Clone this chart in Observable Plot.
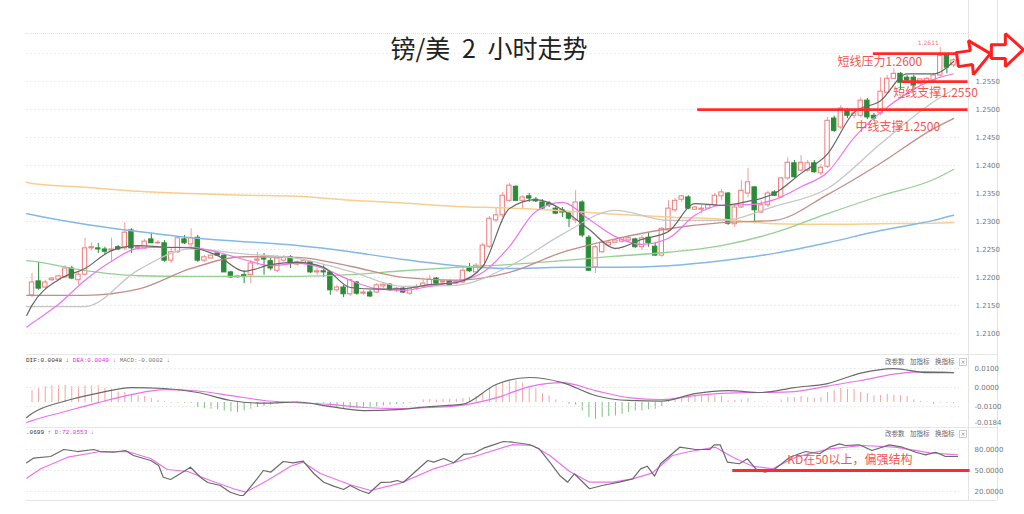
<!DOCTYPE html>
<html><head><meta charset="utf-8">
<script src="https://cdn.jsdelivr.net/npm/d3@7"></script>
<script src="https://cdn.jsdelivr.net/npm/@observablehq/plot@0.6"></script>
<style>
html,body{margin:0;padding:0;background:#fff;}
#wrap{position:relative;width:1024px;height:514px;overflow:hidden;background:#fff;}
.t{position:absolute;white-space:pre;}
.hdr{position:absolute;font-family:"Liberation Mono",monospace;font-size:6px;line-height:8px;white-space:pre;}
.btn{position:absolute;font-family:"Noto Sans CJK SC";font-size:6.5px;line-height:8px;color:#666;white-space:pre;}
.xbox{position:absolute;width:6px;height:6px;border:1px solid #ccc;font-size:6px;line-height:6px;text-align:center;color:#888;font-family:"DejaVu Sans";}
.hl{position:absolute;height:0;border-top:1px solid #e6e6e6;}
.vl{position:absolute;width:0;border-left:1px solid #e3e3e3;}
</style></head>
<body><div id="wrap"></div>
<script>
// ---------------- data ----------------
const title = "镑/美 2 小时走势";
const priceTicks = [1.2100,1.2150,1.2200,1.2250,1.2300,1.2350,1.2400,1.2450,1.2500,1.2550,1.2600];
const macdTicks = [0.0100, 0.0000, -0.0100, -0.0184];
const macdGrid = [0.0100, 0.0000, -0.0100];
const kdTicks = [80, 50, 20];

const opens = [
1.2168,1.2193,1.2182,1.2195,1.2196,1.2200,1.2216,1.2195,1.2205,1.2252,
1.2252,1.2250,1.2248,1.2254,1.2252,1.2284,1.2252,1.2252,1.2268,1.2261,
1.2261,1.2230,1.2245,1.2268,1.2259,1.2271,1.2230,1.2234,1.2243,1.2239,
1.2209,1.2200,1.2204,1.2204,1.2230,1.2234,1.2229,1.2212,1.2230,1.2236,
1.2223,1.2225,1.2227,1.2209,1.2211,1.2209,1.2177,1.2182,1.2170,1.2191,
1.2171,1.2173,1.2173,1.2184,1.2187,1.2177,1.2180,1.2171,1.2180,1.2184,
1.2186,1.2198,1.2191,1.2193,1.2189,1.2191,1.2216,1.2209,1.2220,1.2255,
1.2302,1.2311,1.2337,1.2362,1.2337,1.2345,1.2339,1.2334,1.2332,1.2323,
1.2320,1.2314,1.2302,1.2334,1.2271,1.2218,1.2245,1.2257,1.2262,1.2264,
1.2266,1.2268,1.2254,1.2271,1.2255,1.2239,1.2284,1.2320,1.2339,1.2343,
1.2321,1.2321,1.2323,1.2329,1.2345,1.2350,1.2295,1.2325,1.2350,1.2361,
1.2316,1.2329,1.2352,1.2343,1.2377,1.2404,1.2391,1.2391,1.2404,1.2386,
1.2398,1.2484,1.2468,1.2498,1.2489,1.2489,1.2516,1.2489,1.2493,1.2530,
1.2555,1.2564,1.2557,1.2557,1.2546,1.2548,1.2552,1.2561,1.2596,1.2579];
const highs = [
1.2207,1.2227,1.2195,1.2200,1.2204,1.2221,1.2220,1.2209,1.2270,1.2262,
1.2261,1.2254,1.2270,1.2257,1.2298,1.2287,1.2257,1.2268,1.2279,1.2266,
1.2266,1.2252,1.2271,1.2275,1.2287,1.2275,1.2239,1.2241,1.2246,1.2241,
1.2211,1.2204,1.2212,1.2230,1.2245,1.2243,1.2234,1.2239,1.2239,1.2239,
1.2230,1.2232,1.2229,1.2216,1.2221,1.2211,1.2186,1.2186,1.2196,1.2193,
1.2177,1.2177,1.2189,1.2191,1.2189,1.2182,1.2182,1.2182,1.2187,1.2195,
1.2204,1.2200,1.2196,1.2195,1.2195,1.2218,1.2225,1.2225,1.2261,1.2309,
1.2325,1.2352,1.2368,1.2364,1.2346,1.2350,1.2343,1.2339,1.2336,1.2327,
1.2325,1.2316,1.2355,1.2337,1.2275,1.2257,1.2266,1.2266,1.2268,1.2271,
1.2275,1.2270,1.2275,1.2280,1.2262,1.2289,1.2337,1.2341,1.2346,1.2346,
1.2327,1.2329,1.2330,1.2350,1.2357,1.2352,1.2329,1.2373,1.2395,1.2362,
1.2337,1.2354,1.2355,1.2379,1.2414,1.2409,1.2418,1.2409,1.2409,1.2402,
1.2486,1.2488,1.2507,1.2502,1.2498,1.2521,1.2520,1.2493,1.2557,1.2561,
1.2573,1.2566,1.2561,1.2561,1.2554,1.2557,1.2564,1.2611,1.2600,1.2591];
const lows = [
1.2164,1.2177,1.2180,1.2193,1.2195,1.2198,1.2196,1.2186,1.2202,1.2248,
1.2243,1.2241,1.2227,1.2248,1.2248,1.2243,1.2248,1.2250,1.2261,1.2259,
1.2227,1.2225,1.2243,1.2259,1.2254,1.2227,1.2227,1.2232,1.2238,1.2209,
1.2198,1.2198,1.2189,1.2189,1.2221,1.2204,1.2212,1.2209,1.2227,1.2216,
1.2220,1.2223,1.2207,1.2204,1.2200,1.2168,1.2173,1.2164,1.2166,1.2168,
1.2168,1.2164,1.2171,1.2180,1.2175,1.2173,1.2171,1.2168,1.2177,1.2180,
1.2182,1.2187,1.2187,1.2184,1.2187,1.2189,1.2209,1.2207,1.2216,1.2252,
1.2298,1.2307,1.2334,1.2336,1.2323,1.2334,1.2334,1.2320,1.2325,1.2312,
1.2307,1.2289,1.2296,1.2271,1.2211,1.2207,1.2243,1.2254,1.2261,1.2261,
1.2262,1.2252,1.2248,1.2254,1.2238,1.2236,1.2280,1.2316,1.2334,1.2321,
1.2320,1.2314,1.2321,1.2327,1.2337,1.2293,1.2289,1.2323,1.2343,1.2296,
1.2314,1.2325,1.2345,1.2341,1.2373,1.2377,1.2388,1.2388,1.2386,1.2382,
1.2395,1.2459,1.2464,1.2484,1.2484,1.2486,1.2482,1.2479,1.2489,1.2530,
1.2554,1.2534,1.2548,1.2538,1.2543,1.2546,1.2548,1.2557,1.2564,1.2575];
const closes = [
1.2191,1.2180,1.2191,1.2198,1.2202,1.2216,1.2198,1.2205,1.2252,1.2254,
1.2250,1.2246,1.2250,1.2250,1.2280,1.2252,1.2254,1.2264,1.2261,1.2262,
1.2230,1.2245,1.2270,1.2261,1.2270,1.2230,1.2236,1.2239,1.2239,1.2209,
1.2200,1.2202,1.2202,1.2225,1.2232,1.2232,1.2216,1.2234,1.2236,1.2225,
1.2227,1.2229,1.2209,1.2211,1.2209,1.2177,1.2182,1.2170,1.2195,1.2171,
1.2173,1.2166,1.2186,1.2187,1.2177,1.2180,1.2173,1.2180,1.2182,1.2189,
1.2196,1.2189,1.2193,1.2186,1.2191,1.2212,1.2211,1.2221,1.2257,1.2305,
1.2311,1.2346,1.2364,1.2337,1.2343,1.2341,1.2336,1.2323,1.2329,1.2314,
1.2316,1.2305,1.2334,1.2275,1.2212,1.2254,1.2262,1.2262,1.2266,1.2270,
1.2270,1.2254,1.2270,1.2261,1.2239,1.2287,1.2323,1.2337,1.2345,1.2323,
1.2325,1.2323,1.2329,1.2346,1.2352,1.2296,1.2325,1.2355,1.2370,1.2320,
1.2329,1.2350,1.2346,1.2377,1.2405,1.2379,1.2405,1.2404,1.2388,1.2396,
1.2480,1.2462,1.2502,1.2489,1.2493,1.2516,1.2486,1.2484,1.2532,1.2555,
1.2564,1.2548,1.2552,1.2543,1.2554,1.2555,1.2561,1.2596,1.2575,1.2588];

// moving-average lines at these candle positions
const fastIdx = [-0.8,0,4,8,12,16,20,24,28,32,36,40,44,48,52,56,60,64,68,72,76,80,84,88,92,96,100,104,108,112,116,120,124,128,132,136,139];
const ma5 = [1.2132,1.2150,1.2196,1.2216,1.2248,1.2257,1.2254,1.2253,1.2239,1.2211,1.2223,1.2227,1.2218,1.2182,1.2179,1.2180,1.2187,1.2191,1.2220,1.2323,1.2339,1.2321,1.2286,1.2252,1.2268,1.2282,1.2332,1.2329,1.2336,1.2350,1.2386,1.2421,1.2495,1.2516,1.2564,1.2564,1.2586];
const ma10 = [1.2111,1.2118,1.2152,1.2195,1.2229,1.2252,1.2254,1.2254,1.2245,1.2232,1.2221,1.2225,1.2216,1.2195,1.2180,1.2177,1.2184,1.2193,1.2209,1.2255,1.2318,1.2334,1.2304,1.2273,1.2259,1.2270,1.2311,1.2329,1.2330,1.2339,1.2362,1.2388,1.2450,1.2495,1.2529,1.2554,1.2564];
const slowIdx = [-0.8,0,8,16,24,32,40,48,56,64,72,80,88,96,104,112,120,128,136,139];
const ma20 = [1.2148,1.2148,1.2148,1.2213,1.2251,1.2242,1.2234,1.2211,1.2184,1.2186,1.2220,1.2277,1.2320,1.2302,1.2302,1.2327,1.2359,1.2439,1.2514,1.2536];
const ma30 = [1.2168,1.2168,1.2168,1.2179,1.2216,1.2237,1.2236,1.2220,1.2200,1.2195,1.2209,1.2245,1.2269,1.2287,1.2298,1.2302,1.2348,1.2404,1.2466,1.2484];
const ma60 = [1.2230,1.2229,1.2212,1.2203,1.2202,1.2202,1.2202,1.2205,1.2212,1.2218,1.2223,1.2230,1.2238,1.2245,1.2257,1.2280,1.2314,1.2346,1.2375,1.2393];
const ma120 = [1.2314,1.2312,1.2295,1.2282,1.2271,1.2264,1.2257,1.2246,1.2232,1.2221,1.2216,1.2218,1.2218,1.2221,1.2230,1.2243,1.2262,1.2284,1.2302,1.2311];
const ma250 = [1.2370,1.2368,1.2361,1.2354,1.2350,1.2347,1.2345,1.2338,1.2333,1.2327,1.2324,1.2319,1.2313,1.2308,1.2304,1.2296,1.2295,1.2296,1.2297,1.2298];

// MACD
const macdIdx = [-0.8,0,5,10,15,20,25,30,35,40,45,50,55,60,65,70,75,80,85,90,95,100,105,110,115,120,125,130,135,139];
const dif = [-0.0158,-0.0137,-0.0071,-0.0029,0.0000,-0.0005,-0.0026,-0.0068,-0.0082,-0.0076,-0.0100,-0.0121,-0.0116,-0.0100,-0.0087,0.0016,0.0053,0.0026,-0.0042,-0.0068,-0.0071,-0.0032,-0.0016,-0.0026,0.0000,0.0021,0.0076,0.0100,0.0079,0.0079];
const dea = [-0.0184,-0.0174,-0.0126,-0.0079,-0.0037,-0.0011,-0.0018,-0.0042,-0.0068,-0.0079,-0.0089,-0.0105,-0.0111,-0.0105,-0.0092,-0.0054,0.0005,0.0026,-0.0016,-0.0053,-0.0063,-0.0042,-0.0029,-0.0026,-0.0021,0.0008,0.0037,0.0071,0.0084,0.0079];
const macdHist = [
0.0062,0.0074,0.0084,0.0088,0.0088,0.0091,0.0084,0.0084,0.0088,0.0088,
0.0088,0.0074,0.0070,0.0056,0.0053,0.0044,0.0035,0.0032,0.0021,0.0012,
0.0005,-0.0003,-0.0003,-0.0004,-0.0005,-0.0026,-0.0032,-0.0035,-0.0038,-0.0044,
-0.0049,-0.0053,-0.0044,-0.0035,-0.0026,-0.0021,-0.0014,-0.0009,-0.0005,-0.0003,
0.0002,0.0002,-0.0002,-0.0003,-0.0005,-0.0026,-0.0026,-0.0032,-0.0032,-0.0032,
-0.0028,-0.0026,-0.0023,-0.0017,-0.0014,-0.0011,-0.0007,-0.0004,-0.0002,0.0014,
0.0017,0.0014,0.0017,0.0017,0.0017,0.0021,0.0026,0.0032,0.0044,0.0074,
0.0091,0.0105,0.0114,0.0114,0.0102,0.0079,0.0074,0.0047,0.0035,0.0014,
0.0004,-0.0009,-0.0014,-0.0044,-0.0079,-0.0088,-0.0079,-0.0074,-0.0070,-0.0062,
-0.0053,-0.0044,-0.0044,-0.0038,-0.0035,-0.0021,0.0009,0.0017,0.0026,0.0032,
0.0035,0.0035,0.0038,0.0035,0.0035,0.0009,0.0012,0.0014,0.0021,0.0004,
0.0003,0.0003,0.0003,0.0014,0.0026,0.0026,0.0032,0.0026,0.0021,0.0026,
0.0053,0.0062,0.0074,0.0070,0.0070,0.0053,0.0047,0.0035,0.0038,0.0044,
0.0038,0.0035,0.0032,0.0014,0.0007,0.0004,-0.0009,-0.0003,-0.0004,-0.0004];

// KD
const kIdx = [-0.8,0.2,2.8,4.8,6.9,9.3,10.3,12.3,14.1,15.3,17.9,19.1,19.8,20.9,22.4,23.9,25.4,26.5,28.4,29.9,31.4,31.9,34.0,34.9,36.0,37.9,39.4,40.9,42.5,44.0,45.5,47.0,48.0,49.5,50.8,52.6,54.1,55.1,56.0,57.5,59.7,60.6,62.1,63.6,65.1,66.6,68.1,69.6,71.1,72.5,75.0,76.5,78.1,79.6,80.8,81.8,84.1,86.0,88.6,90.6,91.8,92.8,93.9,94.8,97.7,100.1,102.2,102.9,103.8,104.9,106.7,107.9,109.4,110.6,112.1,114.3,116.7,118.8,120.3,121.8,122.7,124.8,126.7,129.3,131.3,133.3,134.8,136.3,137.8,139.6];
const kVal = [61.0,67.6,70.0,80.0,77.1,80.0,77.1,76.1,78.6,71.4,64.3,57.1,40.4,37.1,45.7,54.7,40.4,32.9,28.6,19.0,14.3,14.3,38.6,50.0,47.6,62.9,61.0,63.3,45.7,33.3,27.6,22.9,28.6,21.4,17.1,32.9,33.3,35.7,32.9,45.7,64.3,61.9,67.1,61.0,72.9,74.3,81.9,86.7,91.4,90.4,87.1,81.0,61.9,42.9,33.3,45.3,23.9,28.6,33.3,38.1,52.4,56.1,41.9,59.6,83.3,80.0,80.0,86.7,86.7,61.9,59.6,66.7,50.0,47.6,52.4,69.0,77.1,73.9,83.3,88.1,85.7,86.7,78.6,86.7,83.3,76.1,72.4,76.1,70.0,70.0];
const dIdx = [-0.8,1.3,5.4,10.3,14.4,17.9,20.4,23.5,26.9,30.4,32.2,35.5,39.0,40.9,43.5,48.0,51.1,55.6,60.6,65.7,72.5,75.5,78.1,81.1,84.1,87.6,90.6,93.6,96.6,99.2,103.1,105.7,108.7,111.7,115.2,120.3,125.3,130.2,135.4,139.6];
const dVal = [39.0,52.4,69.0,77.1,77.1,67.1,51.4,48.6,35.7,23.9,19.0,35.7,56.1,61.9,45.7,29.6,21.4,31.9,52.4,67.1,87.0,85.7,71.4,48.6,33.3,33.3,38.1,46.7,71.4,77.1,83.3,69.0,56.1,52.4,69.0,81.0,85.7,83.3,75.3,72.4];

// annotations
const priceLevels = [
  {label: "短线压力1.2600", p: 1.2600, i1: 126.9, i2: 139.6, ti: 121.5, tp: 1.2585},
  {label: "短线支撑1.2550", p: 1.2550, i1: 131.3, i2: 141.2, ti: 129.9, tp: 1.2530},
  {label: "中线支撑1.2500", p: 1.2500, i1: 100.4, i2: 141.2, ti: 124.2, tp: 1.2469}
];
const kdNote = {label: "KD在50以上，偏强结构", v: 50, i1: 105.7, i2: 141.5, ti: 113.9, tv: 64.3};
const arrow1 = [[139.44,1.26018],[141.55,1.26054],[141.25,1.26232],[144.56,1.26000],[142.0,1.25625],[141.86,1.25804],[139.74,1.25768],[139.44,1.26018]];
const arrow2 = [[144.71,1.26161],[146.82,1.26161],[146.82,1.26357],[149.54,1.26071],[146.82,1.25768],[146.82,1.25911],[144.71,1.25911],[144.71,1.26161]];

// ---------------- build ----------------
const wrap = document.getElementById("wrap");
const candles = opens.map((o, i) => ({i, o, h: highs[i], l: lows[i], c: closes[i], up: closes[i] >= o}));
const series = (idx, vals) => idx.map((i, k) => ({i, v: vals[k]}));
const xDom = [-0.83, 139.9];
const RED = "#f2564f", UPC = "#f07a7a", DNC = "#2a8c36";
const baseStyle = {fontSize: "7px", fontFamily: "DejaVu Sans", color: "#777", background: "transparent", overflow: "visible"};

function place(el, top) {
  el.style.position = "absolute"; el.style.left = "0px"; el.style.top = top + "px";
  wrap.appendChild(el);
}
function div(cls, css, text) {
  const d = document.createElement("div"); d.className = cls;
  Object.assign(d.style, css); if (text != null) d.textContent = text;
  wrap.appendChild(d); return d;
}

// frame lines
div("vl", {left: "968px", top: "0px", height: "500px"});
div("vl", {left: "997px", top: "0px", height: "500px"});
div("hl", {left: "26px", top: "33px", width: "942px", borderTop: "1px dotted #e4e4e4"});
div("hl", {left: "26px", top: "354px", width: "971px"});
div("hl", {left: "26px", top: "427px", width: "971px"});
div("hl", {left: "26px", top: "500px", width: "971px"});

const lineOpts = (c, w) => ({x: "i", y: "v", stroke: c, strokeWidth: w, curve: "monotone-x"});

const main = Plot.plot({
  width: 1024, height: 352, marginLeft: 26, marginRight: 65, marginTop: 33, marginBottom: 4,
  x: {domain: xDom, axis: null},
  y: {domain: [1.2073, 1.2636], axis: "right", ticks: priceTicks, tickFormat: d => d.toFixed(4), tickSize: 0, tickPadding: 16, label: null},
  style: baseStyle,
  marks: [
    Plot.ruleY(priceTicks, {stroke: "#e2e2e2", strokeDasharray: "1.5,2.5"}),
    Plot.ruleX(candles, {x: "i", y1: "l", y2: "h", stroke: d => d.up ? "#f29a9a" : DNC, strokeWidth: 1}),
    Plot.rect(candles, {x1: d => d.i - 0.33, x2: d => d.i + 0.33, y1: "o", y2: "c", fill: d => d.up ? "#ffffff" : DNC, stroke: d => d.up ? UPC : DNC, strokeWidth: 1}),
    Plot.line(series(slowIdx, ma250), lineOpts("#f9cd8f", 1.5)),
    Plot.line(series(slowIdx, ma120), lineOpts("#84b8e6", 1.5)),
    Plot.line(series(slowIdx, ma60), lineOpts("#96cf92", 1.3)),
    Plot.line(series(slowIdx, ma30), lineOpts("#c38e8a", 1.3)),
    Plot.line(series(slowIdx, ma20), lineOpts("#c6c6c6", 1.3)),
    Plot.line(series(fastIdx, ma10), lineOpts("#ee74ee", 1.2)),
    Plot.line(series(fastIdx, ma5), lineOpts("#666666", 1.2)),
    Plot.text([candles[137]], {x: "i", y: "h", text: d => d.h.toFixed(4), dx: -12, dy: -4, fontSize: 6, fill: "#e77", fontFamily: "DejaVu Sans"}),
    Plot.ruleY(priceLevels, {y: "p", x1: "i1", x2: "i2", stroke: "#ff2b2b", strokeWidth: 2.8}),
    Plot.text(priceLevels, {x: "ti", y: "tp", text: "label", textAnchor: "start", fontSize: 12, fill: RED, fontFamily: "Noto Sans CJK SC"}),
    Plot.line(arrow2, {x: d => d[0], y: d => d[1], stroke: "#ff2020", strokeWidth: 3, fill: "white", strokeLinejoin: "miter"}),
    Plot.line(arrow1, {x: d => d[0], y: d => d[1], stroke: "#ff2020", strokeWidth: 3, fill: "white", strokeLinejoin: "miter"})
  ]
});
place(main, 0);

// MACD histogram (own baseline)
const hist = Plot.plot({
  width: 1024, height: 72, marginLeft: 26, marginRight: 65, marginTop: 0, marginBottom: 0,
  x: {domain: xDom, axis: null},
  y: {domain: [-0.0126, 0.0253], axis: null},
  style: baseStyle,
  marks: [
    Plot.ruleX(macdHist.map((v, i) => ({i, v})), {x: "i", y1: 0, y2: "v", stroke: d => d.v >= 0 ? "#f3a3a3" : "#7cbf7c", strokeWidth: 1})
  ]
});
place(hist, 354);

const macd = Plot.plot({
  width: 1024, height: 72, marginLeft: 26, marginRight: 65, marginTop: 0, marginBottom: 0,
  x: {domain: xDom, axis: null},
  y: {domain: [-0.0205, 0.0174], axis: "right", ticks: macdTicks, tickFormat: d => d.toFixed(4), tickSize: 0, tickPadding: 15, label: null},
  style: baseStyle,
  marks: [
    Plot.ruleY(macdGrid, {stroke: "#e4e4e4", strokeDasharray: "1.5,2.5"}),
    Plot.line(series(macdIdx, dea), lineOpts("#ee70ee", 1.2)),
    Plot.line(series(macdIdx, dif), lineOpts("#6a6a6a", 1.2))
  ]
});
place(macd, 354);

const kd = Plot.plot({
  width: 1024, height: 73, marginLeft: 26, marginRight: 65, marginTop: 0, marginBottom: 0,
  x: {domain: xDom, axis: null},
  y: {domain: [7.14, 111.43], axis: "right", ticks: kdTicks, tickFormat: d => d.toFixed(4), tickSize: 0, tickPadding: 15, label: null},
  style: baseStyle,
  marks: [
    Plot.ruleY(kdTicks, {stroke: "#e4e4e4", strokeDasharray: "1.5,2.5"}),
    Plot.line(series(dIdx, dVal), {x: "i", y: "v", stroke: "#ee70ee", strokeWidth: 1.2}),
    Plot.line(series(kIdx, kVal), {x: "i", y: "v", stroke: "#6a6a6a", strokeWidth: 1.2}),
    Plot.ruleY([kdNote], {y: "v", x1: "i1", x2: "i2", stroke: "#ff2b2b", strokeWidth: 2.8}),
    Plot.text([kdNote], {x: "ti", y: "tv", text: "label", textAnchor: "start", fontSize: 12, fill: RED, fontFamily: "Noto Sans CJK SC"})
  ]
});
place(kd, 427);

// title
div("t", {left: "0px", width: "978px", top: "32px", textAlign: "center", fontFamily: "Noto Sans CJK SC", fontSize: "25px", lineHeight: "30px", color: "#222", wordSpacing: "6px"}, title);

// indicator headers
const mh = div("hdr", {left: "26px", top: "357px"});
mh.innerHTML = '<span style="color:#333">DIF:0.0048 ↓</span> <span style="color:#e02ee0">DEA:0.0049 ↓</span> <span style="color:#777">MACD:-0.0002 ↓</span>';
const kh = div("hdr", {left: "26px", top: "429px", width: "200px", overflow: "hidden"});
kh.innerHTML = '<span style="margin-left:-14.4px;color:#333">K:70.0699 ↑</span> <span style="color:#e02ee0">D:72.0553 ↓</span>';
for (const top of [357, 429]) {
  div("btn", {left: "885px", top: top + "px"}, "改参数");
  div("btn", {left: "910px", top: top + "px"}, "加指标");
  div("btn", {left: "935px", top: top + "px"}, "换指标");
  div("xbox", {left: "959px", top: (top + 1) + "px"}, "×");
}
</script>
</body></html>
